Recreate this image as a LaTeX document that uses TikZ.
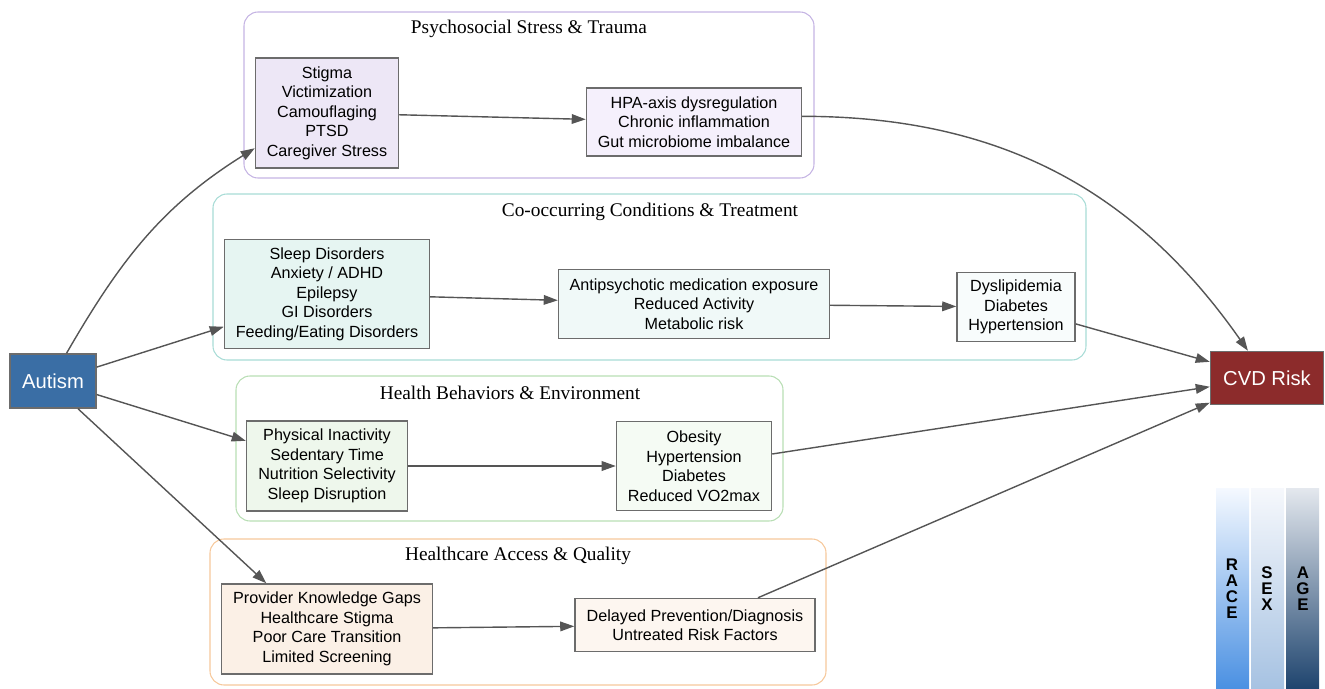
\documentclass[tikz,border=0pt]{standalone}
\usepackage{fontspec}
\setmainfont{Liberation Serif}
\setsansfont{Liberation Sans}
\usetikzlibrary{arrows.meta,positioning}
\definecolor{edgegray}{RGB}{85,85,85}
\definecolor{boxgray}{RGB}{108,108,108}
\definecolor{autismblue}{RGB}{58,110,165}
\definecolor{cvdred}{RGB}{140,43,43}
\definecolor{psychline}{RGB}{197,180,227}
\definecolor{psychfill}{RGB}{237,231,246}
\definecolor{psychpale}{RGB}{245,240,252}
\definecolor{condline}{RGB}{168,220,214}
\definecolor{condfill}{RGB}{230,245,242}
\definecolor{condpale}{RGB}{240,249,248}
\definecolor{condwhite}{RGB}{248,252,252}
\definecolor{behavline}{RGB}{184,222,180}
\definecolor{behavfill}{RGB}{238,247,236}
\definecolor{behavpale}{RGB}{245,251,244}
\definecolor{careline}{RGB}{246,200,155}
\definecolor{carefill}{RGB}{251,240,230}
\definecolor{carepale}{RGB}{253,246,240}
\definecolor{racetop}{RGB}{245,249,255}
\definecolor{racebot}{RGB}{74,144,226}
\definecolor{sextop}{RGB}{246,248,252}
\definecolor{sexbot}{RGB}{166,194,226}
\definecolor{agetop}{RGB}{228,232,238}
\definecolor{agebot}{RGB}{30,68,110}

\begin{document}
\begin{tikzpicture}[x=0.02cm, y=-0.02cm,
    every node/.style={font=\sffamily\fontsize{9.2}{11.1}\selectfont},
    box/.style={draw=boxgray, line width=0.85pt, align=center, inner sep=2pt},
    grp/.style={rounded corners=0.28cm, line width=0.6pt},
    grptitle/.style={font=\rmfamily\fontsize{11}{13}\selectfont},
    barlabel/.style={align=center, font=\sffamily\bfseries\fontsize{9.6}{9.1}\selectfont},
    link/.style={-{Triangle[length=8pt,width=5.5pt]}, edgegray, line width=0.8pt}]
        \useasboundingbox (0,0) rectangle (1325,689);

        % Pathway groups
        \draw[grp,psychline] (244,12) rectangle (814,178);
        \node[grptitle] (psychtitle) at (529,29) {Psychosocial Stress \& Trauma};
        \draw[grp,condline] (213,194) rectangle (1086,360);
        \node[grptitle] (condtitle) at (650,212) {Co-occurring Conditions \& Treatment};
        \draw[grp,behavline] (236,376) rectangle (783,521);
        \node[grptitle] (behavtitle) at (510,393) {Health Behaviors \& Environment};
        \draw[grp,careline] (210,539) rectangle (826,685);
        \node[grptitle] (caretitle) at (518,556) {Healthcare Access \& Quality};

        % Source and outcome
        \node[box, fill=autismblue, text=white, minimum width=1.72cm, minimum height=1.08cm,
          font=\sffamily\fontsize{11.5}{13}\selectfont] (autism) at (53,381) {Autism};
        \node[box, fill=cvdred, text=white, minimum width=2.26cm, minimum height=1.06cm,
          font=\sffamily\fontsize{11.5}{13}\selectfont] (cvd) at (1267,378) {CVD Risk};

        % Psychosocial
        \node[box, fill=psychfill, minimum width=2.86cm, minimum height=2.2cm] (stress) at (327,113)
          {Stigma\\Victimization\\Camouflaging\\PTSD\\Caregiver Stress};
        \node[box, fill=psychpale, minimum width=4.3cm, minimum height=1.36cm] (hpa) at (694,122)
          {HPA-axis dysregulation\\Chronic inflammation\\Gut microbiome imbalance};

        % Co-occurring conditions
        \node[box, fill=condfill, minimum width=4.1cm, minimum height=2.18cm] (cooc) at (327,294)
          {Sleep Disorders\\Anxiety / ADHD\\Epilepsy\\GI Disorders\\Feeding/Eating Disorders};
        \node[box, fill=condpale, minimum width=5.42cm, minimum height=1.38cm] (meds) at (694,304)
          {Antipsychotic medication exposure\\Reduced Activity\\Metabolic risk};
        \node[box, fill=condwhite, minimum width=2.36cm, minimum height=1.38cm] (cardio) at (1016,307)
          {Dyslipidemia\\Diabetes\\Hypertension};

        % Behaviors
        \node[box, fill=behavfill, minimum width=3.22cm, minimum height=1.8cm] (habits) at (327,466)
          {Physical Inactivity\\Sedentary Time\\Nutrition Selectivity\\Sleep Disruption};
        \node[box, fill=behavpale, minimum width=3.1cm, minimum height=1.78cm] (obesity) at (694,466)
          {Obesity\\Hypertension\\Diabetes\\Reduced VO2max};

        % Healthcare
        \node[box, fill=carefill, minimum width=4.22cm, minimum height=1.8cm] (access) at (327,629)
          {Provider Knowledge Gaps\\Healthcare Stigma\\Poor Care Transition\\Limited Screening};
        \node[box, fill=carepale, minimum width=4.8cm, minimum height=1.06cm] (delay) at (695,625)
          {Delayed Prevention/Diagnosis\\Untreated Risk Factors};

        % Links
        \draw[link] (autism.64) to[out=60,in=212] (stress.206);
        \draw[link] (autism) -- (cooc);
        \draw[link] (autism) -- (habits);
        \draw[link] (autism.-48) -- (access.143);
        \draw[link] (stress) -- (hpa);
        \draw[link] (hpa.3) to[out=0,in=125] (cvd);
        \draw[link] (cooc) -- (meds);
        \draw[link] (meds) -- (cardio);
        \draw[link] (cardio) -- (cvd);
        \draw[link] (habits) -- (obesity);
        \draw[link] (obesity) -- (cvd);
        \draw[link] (access) -- (delay);
        \draw[link] (delay) -- (cvd);

        % Modifier bars
        \foreach \x/\tc/\bc in {1216/racetop/racebot,1251/sextop/sexbot,1286/agetop/agebot} {
          \shade[top color=\tc, bottom color=\bc] (\x,488) rectangle (\x+33,689);
        }
        \node[barlabel] (race) at (1232,589) {R\\A\\C\\E};
        \node[barlabel] (sex) at (1267,589) {S\\E\\X};
        \node[barlabel] (age) at (1303,589) {A\\G\\E};
\end{tikzpicture}
\end{document}
